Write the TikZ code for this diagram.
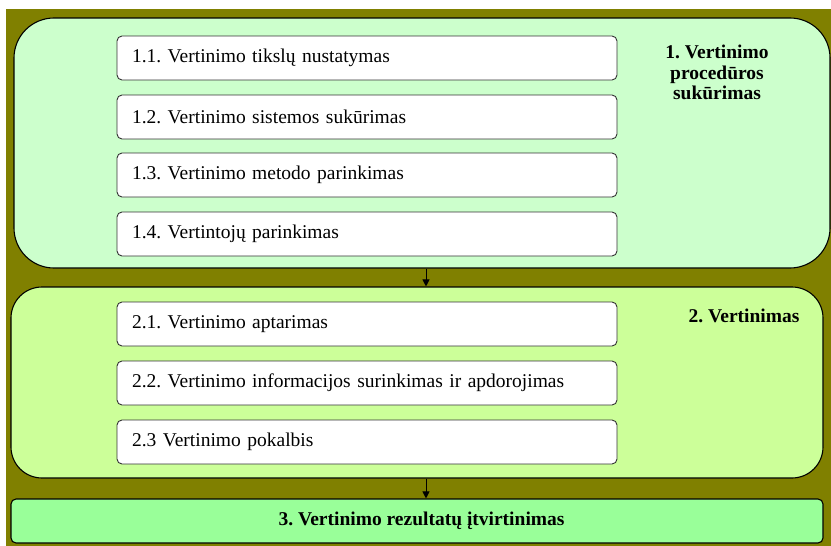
\documentclass[tikz,border=0pt]{standalone}
\usepackage{fontspec}
\setmainfont{Liberation Serif}
\usetikzlibrary{arrows.meta}
\definecolor{bgolive}{RGB}{128,128,0}
\definecolor{stageA}{RGB}{204,255,204}
\definecolor{stageB}{RGB}{204,255,153}
\definecolor{stageC}{RGB}{153,255,153}
\frenchspacing
\begin{document}
\begin{tikzpicture}[x=1pt,y=-1pt,
  stage/.style={draw=black, line width=1.1pt, rectangle, inner sep=0pt},
  sub/.style={draw=black!80, line width=0.9pt, fill=white, rounded corners=5pt,
    rectangle, minimum width=500pt, minimum height=44pt, text width=470pt,
    inner xsep=15pt, inner ysep=0pt, align=left, font=\rmfamily\fontsize{19.5}{20.5}\selectfont},
  head/.style={font=\rmfamily\fontsize{19.5}{20.5}\selectfont\bfseries, align=center, inner sep=0pt},
  flow/.style={-{Triangle[length=7pt,width=7pt]}, line width=1pt}]
\useasboundingbox (0,0) rectangle (831,546);
\fill[white] (0,0) rectangle (831,546);
\fill[bgolive] (6,9) rectangle (831,546);

\node[stage, fill=stageA, rounded corners=40pt, minimum width=816pt, minimum height=250pt] (s1) at (422,143) {};
\node[stage, fill=stageB, rounded corners=31pt, minimum width=812pt, minimum height=191pt] (s2) at (417,382.5) {};
\node[stage, fill=stageC, rounded corners=5pt, minimum width=812pt, minimum height=44pt,
  font=\rmfamily\fontsize{19.5}{20.5}\selectfont\bfseries] (s3) at (417,521) {\hspace*{9pt}3. Vertinimo rezultatų įtvirtinimas};

\node[sub] (a1) at (367,58) {1.1. Vertinimo tikslų nustatymas};
\node[sub] (a2) at (367,117) {1.2. Vertinimo sistemos sukūrimas};
\node[sub] (a3) at (367,175) {1.3. Vertinimo metodo parinkimas};
\node[sub] (a4) at (367,234) {1.4. Vertintojų parinkimas};

\node[sub] (b1) at (367,324) {2.1. Vertinimo aptarimas};
\node[sub] (b2) at (367,383) {2.2. Vertinimo informacijos surinkimas ir apdorojimas};
\node[sub] (b3) at (367,442) {2.3 Vertinimo pokalbis};

\node[head, anchor=north] (h1) at (717,45) {1. Vertinimo\\procedūros\\sukūrimas};
\node[head, anchor=base] (h2) at (744,322) {2. Vertinimas};

\coordinate (ax) at (426,0);
\draw[flow] (s1.south -| ax) -- (s2.north -| ax);
\draw[flow] (s2.south -| ax) -- (s3.north -| ax);
\end{tikzpicture}
\end{document}
